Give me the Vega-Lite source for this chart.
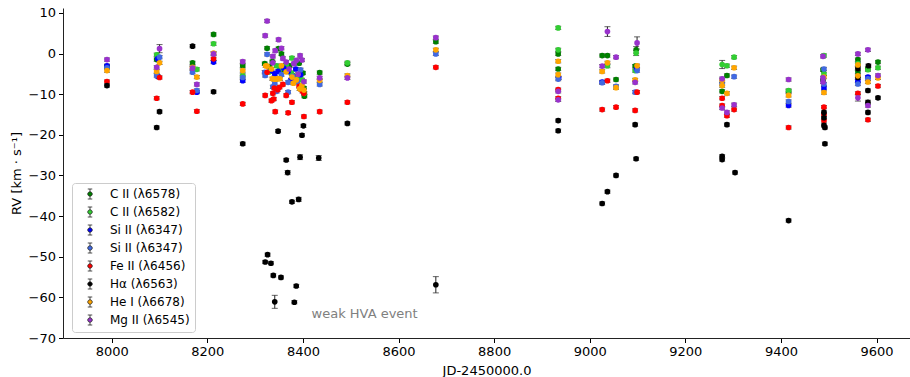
{
  "$schema": "https://vega.github.io/schema/vega-lite/v6.json",
  "width": 847,
  "height": 330,
  "autosize": {"type": "none"},
  "padding": {"left": 63, "top": 8, "right": 0, "bottom": 39},
  "background": "white",
  "config": {
    "view": {"stroke": null},
    "font": "DejaVu Sans",
    "axis": {"labelFont": "DejaVu Sans", "labelFontSize": 13, "labelColor": "#000", "titleFont": "DejaVu Sans", "titleFontSize": 13, "titleFontWeight": "normal", "titleColor": "#000", "tickColor": "#000", "domainColor": "#222", "tickSize": 4.5, "grid": false, "labelPadding": 3},
    "legend": {"labelFont": "DejaVu Sans", "labelFontSize": 12, "labelColor": "#000"}
  },
  "datasets": {
    "rv": [
      {"s": "C II (λ6578)", "jd": 7990, "rv": -3.2, "e": 0.4},
      {"s": "C II (λ6578)", "jd": 8094, "rv": -1.5, "e": 0.4},
      {"s": "C II (λ6578)", "jd": 8169, "rv": -2.3, "e": 0.4},
      {"s": "C II (λ6578)", "jd": 8213, "rv": 4.7, "e": 0.4},
      {"s": "C II (λ6578)", "jd": 8274, "rv": -3.0, "e": 0.4},
      {"s": "C II (λ6578)", "jd": 8320, "rv": -2.5, "e": 0.4},
      {"s": "C II (λ6578)", "jd": 8325, "rv": 1.3, "e": 0.4},
      {"s": "C II (λ6578)", "jd": 8330, "rv": -3.3, "e": 0.4},
      {"s": "C II (λ6578)", "jd": 8336, "rv": -2.0, "e": 0.4},
      {"s": "C II (λ6578)", "jd": 8349, "rv": 1.2, "e": 0.4},
      {"s": "C II (λ6578)", "jd": 8355, "rv": -0.1, "e": 0.4},
      {"s": "C II (λ6578)", "jd": 8360, "rv": -4.0, "e": 0.4},
      {"s": "C II (λ6578)", "jd": 8372, "rv": -3.0, "e": 0.4},
      {"s": "C II (λ6578)", "jd": 8380, "rv": -5.5, "e": 0.4},
      {"s": "C II (λ6578)", "jd": 8392, "rv": -2.4, "e": 0.4},
      {"s": "C II (λ6578)", "jd": 8400, "rv": -4.8, "e": 0.4},
      {"s": "C II (λ6578)", "jd": 8402, "rv": -8.5, "e": 0.4},
      {"s": "C II (λ6578)", "jd": 8403, "rv": -10.5, "e": 0.4},
      {"s": "C II (λ6578)", "jd": 8435, "rv": -4.7, "e": 0.4},
      {"s": "C II (λ6578)", "jd": 8493, "rv": -2.6, "e": 0.4},
      {"s": "C II (λ6578)", "jd": 8678, "rv": 2.9, "e": 0.4},
      {"s": "C II (λ6578)", "jd": 8934, "rv": -0.1, "e": 0.4},
      {"s": "C II (λ6578)", "jd": 8934, "rv": -3.8, "e": 0.4},
      {"s": "C II (λ6578)", "jd": 9026, "rv": -0.5, "e": 0.4},
      {"s": "C II (λ6578)", "jd": 9037, "rv": -0.5, "e": 0.4},
      {"s": "C II (λ6578)", "jd": 9055, "rv": -6.4, "e": 0.4},
      {"s": "C II (λ6578)", "jd": 9097, "rv": 0.9, "e": 0.8},
      {"s": "C II (λ6578)", "jd": 9095, "rv": -3.1, "e": 0.4},
      {"s": "C II (λ6578)", "jd": 9287, "rv": -5.4, "e": 0.4},
      {"s": "C II (λ6578)", "jd": 9277, "rv": -9.3, "e": 0.4},
      {"s": "C II (λ6578)", "jd": 9416, "rv": -9.3, "e": 0.4},
      {"s": "C II (λ6578)", "jd": 9488, "rv": -4.0, "e": 0.4},
      {"s": "C II (λ6578)", "jd": 9488, "rv": -6.5, "e": 0.4},
      {"s": "C II (λ6578)", "jd": 9561, "rv": -1.5, "e": 0.4},
      {"s": "C II (λ6578)", "jd": 9561, "rv": -4.5, "e": 0.4},
      {"s": "C II (λ6578)", "jd": 9582, "rv": -3.7, "e": 0.4},
      {"s": "C II (λ6578)", "jd": 9603, "rv": -2.1, "e": 0.4},
      {"s": "C II (λ6582)", "jd": 7990, "rv": -3.3, "e": 0.4},
      {"s": "C II (λ6582)", "jd": 8094, "rv": -0.3, "e": 0.4},
      {"s": "C II (λ6582)", "jd": 8178, "rv": -3.9, "e": 0.4},
      {"s": "C II (λ6582)", "jd": 8213, "rv": 2.4, "e": 0.4},
      {"s": "C II (λ6582)", "jd": 8274, "rv": -5.4, "e": 0.4},
      {"s": "C II (λ6582)", "jd": 8330, "rv": -4.5, "e": 0.4},
      {"s": "C II (λ6582)", "jd": 8345, "rv": -3.0, "e": 0.4},
      {"s": "C II (λ6582)", "jd": 8351, "rv": -3.8, "e": 0.4},
      {"s": "C II (λ6582)", "jd": 8365, "rv": -2.8, "e": 0.4},
      {"s": "C II (λ6582)", "jd": 8376, "rv": -4.8, "e": 0.4},
      {"s": "C II (λ6582)", "jd": 8377, "rv": -1.1, "e": 0.4},
      {"s": "C II (λ6582)", "jd": 8390, "rv": -6.0, "e": 0.4},
      {"s": "C II (λ6582)", "jd": 8398, "rv": -6.5, "e": 0.4},
      {"s": "C II (λ6582)", "jd": 8403, "rv": -9.8, "e": 0.4},
      {"s": "C II (λ6582)", "jd": 8493, "rv": -2.3, "e": 0.4},
      {"s": "C II (λ6582)", "jd": 8934, "rv": 6.3, "e": 0.4},
      {"s": "C II (λ6582)", "jd": 8934, "rv": 0.9, "e": 0.4},
      {"s": "C II (λ6582)", "jd": 9037, "rv": -3.0, "e": 0.5},
      {"s": "C II (λ6582)", "jd": 9097, "rv": 0.1, "e": 0.6},
      {"s": "C II (λ6582)", "jd": 9095, "rv": -4.2, "e": 0.4},
      {"s": "C II (λ6582)", "jd": 9277, "rv": -2.7, "e": 1.0},
      {"s": "C II (λ6582)", "jd": 9287, "rv": -3.0, "e": 0.4},
      {"s": "C II (λ6582)", "jd": 9302, "rv": -0.9, "e": 0.4},
      {"s": "C II (λ6582)", "jd": 9416, "rv": -9.1, "e": 0.4},
      {"s": "C II (λ6582)", "jd": 9490, "rv": -0.5, "e": 0.4},
      {"s": "C II (λ6582)", "jd": 9490, "rv": -5.0, "e": 0.4},
      {"s": "C II (λ6582)", "jd": 9561, "rv": -2.5, "e": 0.4},
      {"s": "C II (λ6582)", "jd": 9582, "rv": -4.0, "e": 0.4},
      {"s": "C II (λ6582)", "jd": 9603, "rv": -3.5, "e": 0.4},
      {"s": "Si II (λ6347)", "jd": 7990, "rv": -3.0, "e": 0.4},
      {"s": "Si II (λ6347)", "jd": 8096, "rv": -1.3, "e": 0.4},
      {"s": "Si II (λ6347)", "jd": 8096, "rv": -5.6, "e": 0.4},
      {"s": "Si II (λ6347)", "jd": 8178, "rv": -9.5, "e": 0.4},
      {"s": "Si II (λ6347)", "jd": 8213, "rv": -2.1, "e": 0.4},
      {"s": "Si II (λ6347)", "jd": 8274, "rv": -6.7, "e": 0.4},
      {"s": "Si II (λ6347)", "jd": 8334, "rv": -4.2, "e": 0.4},
      {"s": "Si II (λ6347)", "jd": 8341, "rv": -5.0, "e": 0.4},
      {"s": "Si II (λ6347)", "jd": 8348, "rv": -4.4, "e": 0.4},
      {"s": "Si II (λ6347)", "jd": 8360, "rv": -3.6, "e": 0.4},
      {"s": "Si II (λ6347)", "jd": 8369, "rv": -4.4, "e": 0.4},
      {"s": "Si II (λ6347)", "jd": 8375, "rv": -6.5, "e": 0.4},
      {"s": "Si II (λ6347)", "jd": 8385, "rv": -3.8, "e": 0.4},
      {"s": "Si II (λ6347)", "jd": 8395, "rv": -5.2, "e": 0.4},
      {"s": "Si II (λ6347)", "jd": 8935, "rv": -6.0, "e": 0.4},
      {"s": "Si II (λ6347)", "jd": 9026, "rv": -7.0, "e": 0.4},
      {"s": "Si II (λ6347)", "jd": 9098, "rv": -3.8, "e": 0.4},
      {"s": "Si II (λ6347)", "jd": 9416, "rv": -12.8, "e": 0.4},
      {"s": "Si II (λ6347)", "jd": 9490, "rv": -8.5, "e": 0.4},
      {"s": "Si II (λ6347)", "jd": 9561, "rv": -6.8, "e": 0.4},
      {"s": "Si II (λ6347)", "jd": 9582, "rv": -5.8, "e": 0.4},
      {"s": "Si II (λ6347) ", "jd": 7990, "rv": -3.5, "e": 0.4},
      {"s": "Si II (λ6347) ", "jd": 8100, "rv": -0.9, "e": 0.4},
      {"s": "Si II (λ6347) ", "jd": 8094, "rv": -5.4, "e": 0.4},
      {"s": "Si II (λ6347) ", "jd": 8169, "rv": -4.6, "e": 0.4},
      {"s": "Si II (λ6347) ", "jd": 8178, "rv": -9.1, "e": 0.4},
      {"s": "Si II (λ6347) ", "jd": 8274, "rv": -5.9, "e": 0.4},
      {"s": "Si II (λ6347) ", "jd": 8320, "rv": -4.6, "e": 0.4},
      {"s": "Si II (λ6347) ", "jd": 8321, "rv": -5.4, "e": 0.4},
      {"s": "Si II (λ6347) ", "jd": 8325, "rv": -0.2, "e": 0.4},
      {"s": "Si II (λ6347) ", "jd": 8337, "rv": -8.2, "e": 0.4},
      {"s": "Si II (λ6347) ", "jd": 8341, "rv": -7.3, "e": 0.4},
      {"s": "Si II (λ6347) ", "jd": 8345, "rv": -9.3, "e": 0.4},
      {"s": "Si II (λ6347) ", "jd": 8355, "rv": -5.2, "e": 0.4},
      {"s": "Si II (λ6347) ", "jd": 8369, "rv": -7.1, "e": 0.4},
      {"s": "Si II (λ6347) ", "jd": 8369, "rv": -9.5, "e": 0.4},
      {"s": "Si II (λ6347) ", "jd": 8379, "rv": -5.6, "e": 0.4},
      {"s": "Si II (λ6347) ", "jd": 8388, "rv": -6.8, "e": 0.4},
      {"s": "Si II (λ6347) ", "jd": 8395, "rv": -4.0, "e": 0.4},
      {"s": "Si II (λ6347) ", "jd": 8435, "rv": -7.6, "e": 0.4},
      {"s": "Si II (λ6347) ", "jd": 8678, "rv": -0.1, "e": 0.4},
      {"s": "Si II (λ6347) ", "jd": 8934, "rv": -6.3, "e": 0.4},
      {"s": "Si II (λ6347) ", "jd": 9026, "rv": -7.2, "e": 0.4},
      {"s": "Si II (λ6347) ", "jd": 9055, "rv": -8.1, "e": 0.4},
      {"s": "Si II (λ6347) ", "jd": 9099, "rv": -4.2, "e": 0.4},
      {"s": "Si II (λ6347) ", "jd": 9095, "rv": -9.5, "e": 0.4},
      {"s": "Si II (λ6347) ", "jd": 9277, "rv": -7.5, "e": 0.4},
      {"s": "Si II (λ6347) ", "jd": 9302, "rv": -5.7, "e": 0.4},
      {"s": "Si II (λ6347) ", "jd": 9416, "rv": -11.8, "e": 0.4},
      {"s": "Si II (λ6347) ", "jd": 9490, "rv": -7.5, "e": 0.4},
      {"s": "Si II (λ6347) ", "jd": 9490, "rv": -3.8, "e": 0.4},
      {"s": "Si II (λ6347) ", "jd": 9561, "rv": -7.5, "e": 0.4},
      {"s": "Si II (λ6347) ", "jd": 9582, "rv": -6.2, "e": 0.4},
      {"s": "Fe II (λ6456)", "jd": 7990, "rv": -6.9, "e": 0.4},
      {"s": "Fe II (λ6456)", "jd": 8100, "rv": -5.9, "e": 0.4},
      {"s": "Fe II (λ6456)", "jd": 8094, "rv": -11.0, "e": 0.4},
      {"s": "Fe II (λ6456)", "jd": 8169, "rv": -9.5, "e": 0.4},
      {"s": "Fe II (λ6456)", "jd": 8178, "rv": -14.2, "e": 0.4},
      {"s": "Fe II (λ6456)", "jd": 8213, "rv": -1.3, "e": 0.4},
      {"s": "Fe II (λ6456)", "jd": 8274, "rv": -12.4, "e": 0.4},
      {"s": "Fe II (λ6456)", "jd": 8321, "rv": -10.3, "e": 0.4},
      {"s": "Fe II (λ6456)", "jd": 8325, "rv": -4.6, "e": 0.4},
      {"s": "Fe II (λ6456)", "jd": 8334, "rv": -11.6, "e": 0.4},
      {"s": "Fe II (λ6456)", "jd": 8337, "rv": -9.8, "e": 0.4},
      {"s": "Fe II (λ6456)", "jd": 8339, "rv": -11.2, "e": 0.4},
      {"s": "Fe II (λ6456)", "jd": 8340, "rv": -8.5, "e": 0.4},
      {"s": "Fe II (λ6456)", "jd": 8342, "rv": -14.3, "e": 0.4},
      {"s": "Fe II (λ6456)", "jd": 8347, "rv": -8.9, "e": 0.4},
      {"s": "Fe II (λ6456)", "jd": 8351, "rv": -8.3, "e": 0.4},
      {"s": "Fe II (λ6456)", "jd": 8358, "rv": -7.6, "e": 0.4},
      {"s": "Fe II (λ6456)", "jd": 8365, "rv": -10.3, "e": 0.4},
      {"s": "Fe II (λ6456)", "jd": 8369, "rv": -14.6, "e": 0.4},
      {"s": "Fe II (λ6456)", "jd": 8377, "rv": -12.0, "e": 0.4},
      {"s": "Fe II (λ6456)", "jd": 8392, "rv": -8.1, "e": 0.4},
      {"s": "Fe II (λ6456)", "jd": 8395, "rv": -8.5, "e": 0.4},
      {"s": "Fe II (λ6456)", "jd": 8396, "rv": -8.8, "e": 0.4},
      {"s": "Fe II (λ6456)", "jd": 8399, "rv": -9.3, "e": 0.4},
      {"s": "Fe II (λ6456)", "jd": 8402, "rv": -9.8, "e": 0.4},
      {"s": "Fe II (λ6456)", "jd": 8402, "rv": -15.5, "e": 0.4},
      {"s": "Fe II (λ6456)", "jd": 8435, "rv": -14.3, "e": 0.4},
      {"s": "Fe II (λ6456)", "jd": 8493, "rv": -12.0, "e": 0.4},
      {"s": "Fe II (λ6456)", "jd": 8678, "rv": -3.4, "e": 0.4},
      {"s": "Fe II (λ6456)", "jd": 8934, "rv": -8.9, "e": 0.4},
      {"s": "Fe II (λ6456)", "jd": 8934, "rv": -11.0, "e": 0.4},
      {"s": "Fe II (λ6456)", "jd": 9037, "rv": -6.7, "e": 0.4},
      {"s": "Fe II (λ6456)", "jd": 9026, "rv": -13.8, "e": 0.4},
      {"s": "Fe II (λ6456)", "jd": 9055, "rv": -13.2, "e": 0.4},
      {"s": "Fe II (λ6456)", "jd": 9099, "rv": -9.5, "e": 0.4},
      {"s": "Fe II (λ6456)", "jd": 9095, "rv": -14.0, "e": 0.4},
      {"s": "Fe II (λ6456)", "jd": 9277, "rv": -11.0, "e": 0.4},
      {"s": "Fe II (λ6456)", "jd": 9277, "rv": -12.8, "e": 0.4},
      {"s": "Fe II (λ6456)", "jd": 9287, "rv": -15.3, "e": 0.4},
      {"s": "Fe II (λ6456)", "jd": 9302, "rv": -13.8, "e": 0.4},
      {"s": "Fe II (λ6456)", "jd": 9416, "rv": -18.2, "e": 0.4},
      {"s": "Fe II (λ6456)", "jd": 9490, "rv": -13.2, "e": 0.4},
      {"s": "Fe II (λ6456)", "jd": 9490, "rv": -15.0, "e": 0.4},
      {"s": "Fe II (λ6456)", "jd": 9490, "rv": -16.5, "e": 0.4},
      {"s": "Fe II (λ6456)", "jd": 9561, "rv": -9.8, "e": 0.4},
      {"s": "Fe II (λ6456)", "jd": 9582, "rv": -16.3, "e": 0.4},
      {"s": "Fe II (λ6456)", "jd": 9603, "rv": -8.0, "e": 0.4},
      {"s": "Hα (λ6563)", "jd": 7990, "rv": -7.9, "e": 0.4},
      {"s": "Hα (λ6563)", "jd": 8094, "rv": -18.2, "e": 0.4},
      {"s": "Hα (λ6563)", "jd": 8100, "rv": -14.3, "e": 0.4},
      {"s": "Hα (λ6563)", "jd": 8169, "rv": 1.8, "e": 0.4},
      {"s": "Hα (λ6563)", "jd": 8213, "rv": -9.4, "e": 0.4},
      {"s": "Hα (λ6563)", "jd": 8274, "rv": -22.2, "e": 0.4},
      {"s": "Hα (λ6563)", "jd": 8321, "rv": -51.3, "e": 0.4},
      {"s": "Hα (λ6563)", "jd": 8326, "rv": -49.5, "e": 0.4},
      {"s": "Hα (λ6563)", "jd": 8333, "rv": -51.6, "e": 0.4},
      {"s": "Hα (λ6563)", "jd": 8338, "rv": -54.6, "e": 0.4},
      {"s": "Hα (λ6563)", "jd": 8341, "rv": -61.1, "e": 1.6},
      {"s": "Hα (λ6563)", "jd": 8348, "rv": -19.1, "e": 0.4},
      {"s": "Hα (λ6563)", "jd": 8354, "rv": -55.1, "e": 0.4},
      {"s": "Hα (λ6563)", "jd": 8365, "rv": -26.2, "e": 0.4},
      {"s": "Hα (λ6563)", "jd": 8368, "rv": -29.3, "e": 0.5},
      {"s": "Hα (λ6563)", "jd": 8377, "rv": -36.5, "e": 0.4},
      {"s": "Hα (λ6563)", "jd": 8382, "rv": -61.2, "e": 0.4},
      {"s": "Hα (λ6563)", "jd": 8386, "rv": -57.2, "e": 0.4},
      {"s": "Hα (λ6563)", "jd": 8391, "rv": -35.9, "e": 0.5},
      {"s": "Hα (λ6563)", "jd": 8394, "rv": -25.5, "e": 0.6},
      {"s": "Hα (λ6563)", "jd": 8398, "rv": -20.1, "e": 0.4},
      {"s": "Hα (λ6563)", "jd": 8401, "rv": -17.8, "e": 0.4},
      {"s": "Hα (λ6563)", "jd": 8433, "rv": -25.7, "e": 0.6},
      {"s": "Hα (λ6563)", "jd": 8493, "rv": -17.2, "e": 0.4},
      {"s": "Hα (λ6563)", "jd": 8678, "rv": -56.9, "e": 2.0},
      {"s": "Hα (λ6563)", "jd": 8934, "rv": -16.5, "e": 0.4},
      {"s": "Hα (λ6563)", "jd": 8934, "rv": -19.0, "e": 0.4},
      {"s": "Hα (λ6563)", "jd": 9026, "rv": -36.9, "e": 0.4},
      {"s": "Hα (λ6563)", "jd": 9037, "rv": -34.0, "e": 0.4},
      {"s": "Hα (λ6563)", "jd": 9055, "rv": -30.0, "e": 0.4},
      {"s": "Hα (λ6563)", "jd": 9095, "rv": -17.5, "e": 0.4},
      {"s": "Hα (λ6563)", "jd": 9097, "rv": -25.9, "e": 0.4},
      {"s": "Hα (λ6563)", "jd": 9277, "rv": -25.3, "e": 0.4},
      {"s": "Hα (λ6563)", "jd": 9277, "rv": -26.1, "e": 0.4},
      {"s": "Hα (λ6563)", "jd": 9287, "rv": -17.5, "e": 0.4},
      {"s": "Hα (λ6563)", "jd": 9304, "rv": -29.3, "e": 0.4},
      {"s": "Hα (λ6563)", "jd": 9416, "rv": -41.1, "e": 0.4},
      {"s": "Hα (λ6563)", "jd": 9490, "rv": -14.5, "e": 0.4},
      {"s": "Hα (λ6563)", "jd": 9490, "rv": -15.8, "e": 0.4},
      {"s": "Hα (λ6563)", "jd": 9490, "rv": -17.7, "e": 0.4},
      {"s": "Hα (λ6563)", "jd": 9492, "rv": -18.2, "e": 0.4},
      {"s": "Hα (λ6563)", "jd": 9492, "rv": -22.2, "e": 0.4},
      {"s": "Hα (λ6563)", "jd": 9561, "rv": -3.7, "e": 0.4},
      {"s": "Hα (λ6563)", "jd": 9561, "rv": -5.9, "e": 0.4},
      {"s": "Hα (λ6563)", "jd": 9583, "rv": -3.0, "e": 0.4},
      {"s": "Hα (λ6563)", "jd": 9582, "rv": -9.1, "e": 0.4},
      {"s": "Hα (λ6563)", "jd": 9582, "rv": -12.0, "e": 0.5},
      {"s": "Hα (λ6563)", "jd": 9582, "rv": -14.5, "e": 0.4},
      {"s": "Hα (λ6563)", "jd": 9603, "rv": -10.9, "e": 0.4},
      {"s": "He I (λ6678)", "jd": 7990, "rv": -4.2, "e": 0.4},
      {"s": "He I (λ6678)", "jd": 8100, "rv": -2.3, "e": 0.4},
      {"s": "He I (λ6678)", "jd": 8094, "rv": -4.4, "e": 0.4},
      {"s": "He I (λ6678)", "jd": 8169, "rv": -3.4, "e": 0.4},
      {"s": "He I (λ6678)", "jd": 8178, "rv": -5.8, "e": 0.4},
      {"s": "He I (λ6678)", "jd": 8213, "rv": 0.1, "e": 0.4},
      {"s": "He I (λ6678)", "jd": 8274, "rv": -4.2, "e": 0.4},
      {"s": "He I (λ6678)", "jd": 8322, "rv": -3.0, "e": 0.4},
      {"s": "He I (λ6678)", "jd": 8325, "rv": -3.1, "e": 0.4},
      {"s": "He I (λ6678)", "jd": 8334, "rv": -3.8, "e": 0.4},
      {"s": "He I (λ6678)", "jd": 8336, "rv": -6.2, "e": 0.4},
      {"s": "He I (λ6678)", "jd": 8340, "rv": -6.3, "e": 0.4},
      {"s": "He I (λ6678)", "jd": 8344, "rv": -6.3, "e": 0.4},
      {"s": "He I (λ6678)", "jd": 8348, "rv": -6.2, "e": 0.4},
      {"s": "He I (λ6678)", "jd": 8352, "rv": -6.2, "e": 0.4},
      {"s": "He I (λ6678)", "jd": 8355, "rv": -3.0, "e": 0.4},
      {"s": "He I (λ6678)", "jd": 8365, "rv": -4.5, "e": 0.4},
      {"s": "He I (λ6678)", "jd": 8377, "rv": -5.8, "e": 0.4},
      {"s": "He I (λ6678)", "jd": 8380, "rv": -7.3, "e": 0.4},
      {"s": "He I (λ6678)", "jd": 8386, "rv": -6.5, "e": 0.4},
      {"s": "He I (λ6678)", "jd": 8393, "rv": -8.7, "e": 0.4},
      {"s": "He I (λ6678)", "jd": 8398, "rv": -7.8, "e": 0.4},
      {"s": "He I (λ6678)", "jd": 8402, "rv": -9.0, "e": 0.4},
      {"s": "He I (λ6678)", "jd": 8435, "rv": -6.6, "e": 0.4},
      {"s": "He I (λ6678)", "jd": 8493, "rv": -5.4, "e": 0.4},
      {"s": "He I (λ6678)", "jd": 8678, "rv": 0.9, "e": 0.4},
      {"s": "He I (λ6678)", "jd": 8934, "rv": -1.9, "e": 0.4},
      {"s": "He I (λ6678)", "jd": 8934, "rv": -5.2, "e": 0.4},
      {"s": "He I (λ6678)", "jd": 9037, "rv": -2.3, "e": 0.4},
      {"s": "He I (λ6678)", "jd": 9026, "rv": -4.4, "e": 0.4},
      {"s": "He I (λ6678)", "jd": 9055, "rv": -8.4, "e": 0.4},
      {"s": "He I (λ6678)", "jd": 9099, "rv": -3.0, "e": 0.4},
      {"s": "He I (λ6678)", "jd": 9095, "rv": -6.5, "e": 0.4},
      {"s": "He I (λ6678)", "jd": 9302, "rv": -3.5, "e": 0.4},
      {"s": "He I (λ6678)", "jd": 9277, "rv": -6.6, "e": 0.4},
      {"s": "He I (λ6678)", "jd": 9277, "rv": -7.9, "e": 0.4},
      {"s": "He I (λ6678)", "jd": 9287, "rv": -9.8, "e": 0.4},
      {"s": "He I (λ6678)", "jd": 9416, "rv": -10.3, "e": 0.4},
      {"s": "He I (λ6678)", "jd": 9490, "rv": -5.8, "e": 0.4},
      {"s": "He I (λ6678)", "jd": 9490, "rv": -9.6, "e": 0.4},
      {"s": "He I (λ6678)", "jd": 9561, "rv": -2.8, "e": 0.4},
      {"s": "He I (λ6678)", "jd": 9561, "rv": -5.5, "e": 0.4},
      {"s": "He I (λ6678)", "jd": 9582, "rv": -7.0, "e": 0.4},
      {"s": "He I (λ6678)", "jd": 9603, "rv": -6.0, "e": 0.4},
      {"s": "Mg II (λ6545)", "jd": 7990, "rv": -1.5, "e": 0.4},
      {"s": "Mg II (λ6545)", "jd": 8100, "rv": 1.2, "e": 1.0},
      {"s": "Mg II (λ6545)", "jd": 8094, "rv": -3.4, "e": 0.4},
      {"s": "Mg II (λ6545)", "jd": 8169, "rv": -3.6, "e": 0.4},
      {"s": "Mg II (λ6545)", "jd": 8178, "rv": -7.6, "e": 0.4},
      {"s": "Mg II (λ6545)", "jd": 8213, "rv": -0.1, "e": 0.4},
      {"s": "Mg II (λ6545)", "jd": 8274, "rv": -2.0, "e": 0.4},
      {"s": "Mg II (λ6545)", "jd": 8321, "rv": 4.4, "e": 0.4},
      {"s": "Mg II (λ6545)", "jd": 8325, "rv": 8.0, "e": 0.4},
      {"s": "Mg II (λ6545)", "jd": 8337, "rv": -0.7, "e": 0.4},
      {"s": "Mg II (λ6545)", "jd": 8337, "rv": -2.3, "e": 0.4},
      {"s": "Mg II (λ6545)", "jd": 8342, "rv": 0.7, "e": 0.4},
      {"s": "Mg II (λ6545)", "jd": 8349, "rv": 3.4, "e": 0.4},
      {"s": "Mg II (λ6545)", "jd": 8355, "rv": 1.3, "e": 0.4},
      {"s": "Mg II (λ6545)", "jd": 8358, "rv": -1.2, "e": 0.4},
      {"s": "Mg II (λ6545)", "jd": 8365, "rv": -2.1, "e": 0.4},
      {"s": "Mg II (λ6545)", "jd": 8371, "rv": -3.8, "e": 0.4},
      {"s": "Mg II (λ6545)", "jd": 8381, "rv": -2.5, "e": 0.4},
      {"s": "Mg II (λ6545)", "jd": 8386, "rv": -1.7, "e": 0.4},
      {"s": "Mg II (λ6545)", "jd": 8390, "rv": -5.1, "e": 0.4},
      {"s": "Mg II (λ6545)", "jd": 8394, "rv": -0.5, "e": 0.4},
      {"s": "Mg II (λ6545)", "jd": 8398, "rv": -1.6, "e": 0.4},
      {"s": "Mg II (λ6545)", "jd": 8402, "rv": -6.9, "e": 0.4},
      {"s": "Mg II (λ6545)", "jd": 8435, "rv": -6.0, "e": 0.4},
      {"s": "Mg II (λ6545)", "jd": 8493, "rv": -6.0, "e": 0.4},
      {"s": "Mg II (λ6545)", "jd": 8678, "rv": 3.9, "e": 0.4},
      {"s": "Mg II (λ6545)", "jd": 8934, "rv": -9.3, "e": 0.4},
      {"s": "Mg II (λ6545)", "jd": 8934, "rv": -11.4, "e": 0.4},
      {"s": "Mg II (λ6545)", "jd": 9037, "rv": 5.4, "e": 1.2},
      {"s": "Mg II (λ6545)", "jd": 9026, "rv": -3.1, "e": 0.4},
      {"s": "Mg II (λ6545)", "jd": 9055, "rv": -0.9, "e": 0.4},
      {"s": "Mg II (λ6545)", "jd": 9099, "rv": 2.6, "e": 1.5},
      {"s": "Mg II (λ6545)", "jd": 9095, "rv": -7.1, "e": 0.4},
      {"s": "Mg II (λ6545)", "jd": 9277, "rv": -6.2, "e": 0.4},
      {"s": "Mg II (λ6545)", "jd": 9277, "rv": -13.4, "e": 0.4},
      {"s": "Mg II (λ6545)", "jd": 9287, "rv": -14.5, "e": 0.4},
      {"s": "Mg II (λ6545)", "jd": 9302, "rv": -12.6, "e": 0.4},
      {"s": "Mg II (λ6545)", "jd": 9416, "rv": -6.4, "e": 0.4},
      {"s": "Mg II (λ6545)", "jd": 9488, "rv": -0.7, "e": 0.4},
      {"s": "Mg II (λ6545)", "jd": 9488, "rv": -6.0, "e": 0.4},
      {"s": "Mg II (λ6545)", "jd": 9488, "rv": -7.0, "e": 0.4},
      {"s": "Mg II (λ6545)", "jd": 9561, "rv": -0.1, "e": 0.4},
      {"s": "Mg II (λ6545)", "jd": 9561, "rv": -10.9, "e": 0.8},
      {"s": "Mg II (λ6545)", "jd": 9582, "rv": 0.9, "e": 0.4},
      {"s": "Mg II (λ6545)", "jd": 9582, "rv": -12.8, "e": 0.4},
      {"s": "Mg II (λ6545)", "jd": 9603, "rv": -5.4, "e": 0.4}
    ],
    "note": [{"jd": 8418, "rv": -64.0, "label": "weak HVA event"}]
  },
  "layer": [
    {
      "mark": {"type": "rule", "color": "#b0b0b0", "strokeWidth": 1.5},
      "encoding": {"x": {"datum": 8316, "type": "quantitative", "scale": {"domain": [7898, 9670], "nice": false, "zero": false}, "axis": {"values": [8000, 8200, 8400, 8600, 8800, 9000, 9200, 9400, 9600], "format": "d", "title": "JD-2450000.0", "titlePadding": 6}}}
    },
    {
      "mark": {"type": "rule", "color": "#909090", "strokeWidth": 1},
      "encoding": {"x": {"datum": 8403, "type": "quantitative"}}
    },
    {
      "mark": {"type": "rule", "color": "#000", "strokeWidth": 1, "strokeDash": [2, 2]},
      "encoding": {"y": {"datum": 0, "type": "quantitative", "scale": {"domain": [-70, 11.2], "nice": false, "zero": false}, "axis": {"values": [-70, -60, -50, -40, -30, -20, -10, 0, 10], "title": "RV [km · s⁻¹]", "titlePadding": 5}}}
    },
    {
      "mark": {"type": "rule", "color": "#222", "strokeWidth": 1},
      "encoding": {"y": {"datum": 11.2, "type": "quantitative"}}
    },
    {
      "data": {"name": "rv"},
      "mark": {"type": "errorbar", "ticks": {"size": 6}, "color": "#222", "thickness": 1},
      "encoding": {
        "x": {"field": "jd", "type": "quantitative", "title": "JD-2450000.0"},
        "y": {"field": "rv", "type": "quantitative", "title": "RV [km · s⁻¹]"},
        "yError": {"field": "e"}
      }
    },
    {
      "data": {"name": "rv"},
      "mark": {"type": "point", "filled": true, "opacity": 1, "size": 32, "strokeWidth": 0},
      "encoding": {
        "x": {"field": "jd", "type": "quantitative", "title": "JD-2450000.0"},
        "y": {"field": "rv", "type": "quantitative", "title": "RV [km · s⁻¹]"},
        "color": {
          "field": "s", "type": "nominal",
          "scale": {
            "domain": ["C II (λ6578)", "C II (λ6582)", "Si II (λ6347)", "Si II (λ6347) ", "Fe II (λ6456)", "Hα (λ6563)", "He I (λ6678)", "Mg II (λ6545)"],
            "range": ["#008000", "#32cd32", "#0000ff", "#4169e1", "#ff0000", "#000000", "#ffa500", "#9932cc"]
          },
          "legend": {
            "title": null, "orient": "none", "legendX": 9, "legendY": 175,
            "padding": 5, "symbolOffset": 7, "symbolSize": 100, "rowPadding": 4, "labelOffset": 14,
            "symbolType": "M0,-1L0,-0.45M0,0.45L0,1M-0.45,-1L0.45,-1M-0.45,1L0.45,1M0.45,0A0.45,0.45,0,1,1,-0.45,0A0.45,0.45,0,1,1,0.45,0Z",
            "symbolOpacity": 1, "symbolStrokeColor": "#222", "symbolStrokeWidth": 0.8,
            "strokeColor": "#cccccc", "cornerRadius": 3,
            "encode": {"symbols": {"update": {"stroke": {"value": "#222"}, "strokeWidth": {"value": 0.8}}}}
          }
        }
      }
    },
    {
      "data": {"name": "note"},
      "mark": {"type": "text", "align": "left", "baseline": "middle", "fontSize": 13, "font": "DejaVu Sans", "color": "#808080"},
      "encoding": {
        "x": {"field": "jd", "type": "quantitative"},
        "y": {"field": "rv", "type": "quantitative"},
        "text": {"field": "label"}
      }
    }
  ]
}
